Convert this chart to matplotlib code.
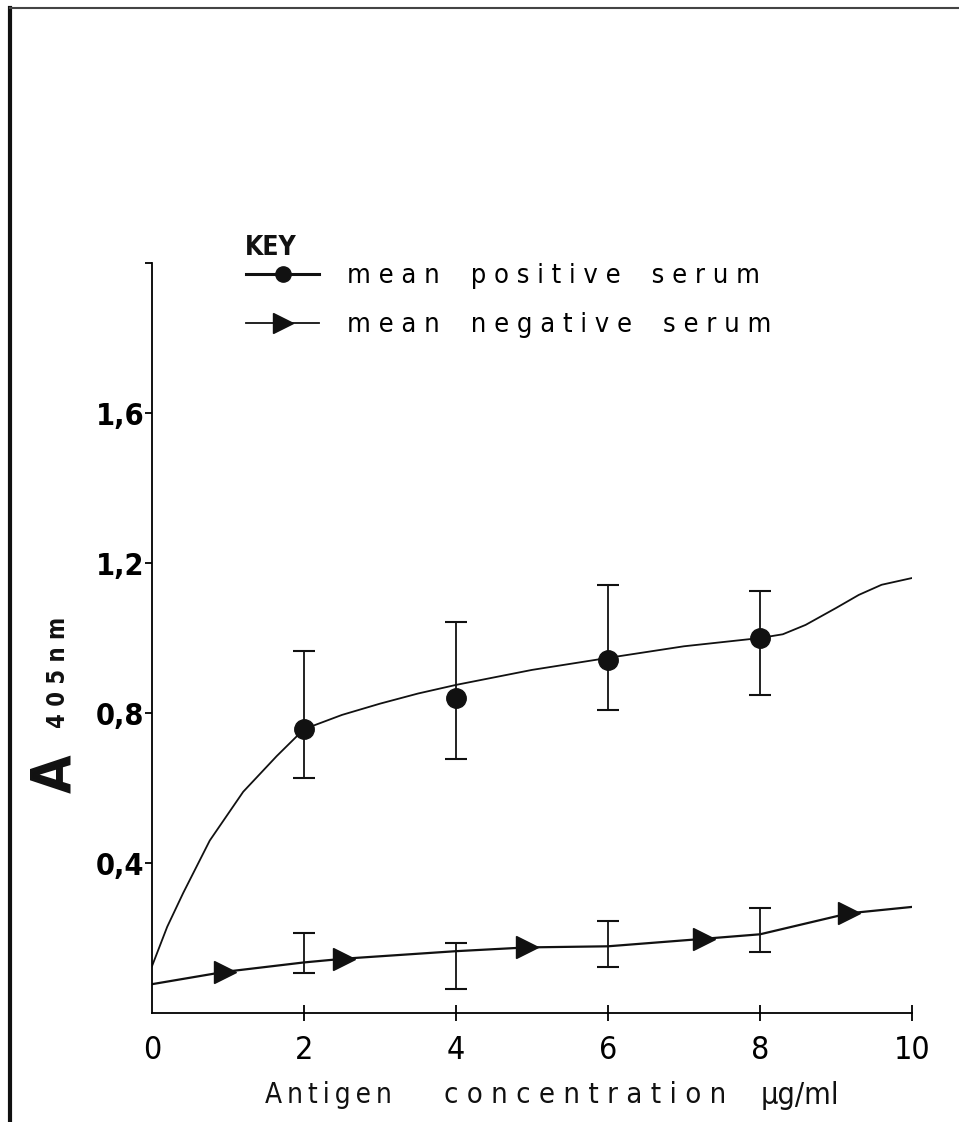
import matplotlib
matplotlib.use('Agg')
import matplotlib.pyplot as plt
from matplotlib.lines import Line2D

# values
conc = [2, 4, 6, 8]
pos_mean = [0.757, 0.840, 0.941, 1.000]
pos_hi = [0.965, 1.043, 1.141, 1.125]
pos_lo = [0.627, 0.677, 0.808, 0.848]

# hand-drawn curve through the positive means
pos_curve_x = [0, 0.2, 0.41, 0.76, 1.2, 1.64, 2.0, 2.5, 3.0, 3.5, 4.0, 5.0, 6.0, 7.0, 8.0,
               8.3, 8.6, 9.0, 9.3, 9.6, 10.0]
pos_curve_y = [0.125, 0.23, 0.32, 0.46, 0.59, 0.685, 0.757, 0.795, 0.825, 0.852, 0.875,
               0.915, 0.947, 0.978, 1.0, 1.01, 1.035, 1.08, 1.115, 1.142, 1.16]

neg_mean = [0.133, 0.165, 0.178, 0.216]
neg_hi = [0.213, 0.186, 0.245, 0.280]
neg_lo = [0.106, 0.064, 0.123, 0.163]

neg_curve_x = [0, 0.96, 2.0, 2.53, 4.0, 4.93, 6.0, 7.26, 8.0, 9.17, 10.0]
neg_curve_y = [0.077, 0.11, 0.135, 0.145, 0.165, 0.175, 0.178, 0.198, 0.21, 0.266, 0.283]
neg_tri_x = [0.96, 2.53, 4.93, 7.26, 9.17]
neg_tri_y = [0.11, 0.145, 0.175, 0.198, 0.266]

xticks = [0, 2, 4, 6, 8, 10]
yticks = [0.4, 0.8, 1.2, 1.6, 2.0]
ytick_labels = ['0,4', '0,8', '1,2', '1,6', '']

plt.rcParams['font.family'] = ['DejaVu Sans']
plt.rcParams['font.stretch'] = 'condensed'

fig = plt.figure(figsize=(9.59, 11.22), dpi=100)
ax = fig.add_axes([0.1585, 0.0971, 0.7925, 0.6685])

ink = '#111111'
ax.plot(pos_curve_x, pos_curve_y, color=ink, lw=1.3)
ax.plot(conc, pos_mean, 'o', color=ink, ms=14)
ax.errorbar(conc, pos_mean, yerr=[[m - l for m, l in zip(pos_mean, pos_lo)],
                                  [h - m for m, h in zip(pos_mean, pos_hi)]],
            fmt='none', ecolor=ink, elinewidth=1.3, capsize=8, capthick=1.5)

ax.plot(neg_curve_x, neg_curve_y, color=ink, lw=1.6)
ax.plot(neg_tri_x, neg_tri_y, '>', color=ink, ms=16)
ax.errorbar(conc, neg_mean, yerr=[[m - l for m, l in zip(neg_mean, neg_lo)],
                                  [h - m for m, h in zip(neg_mean, neg_hi)]],
            fmt='none', ecolor=ink, elinewidth=1.3, capsize=8, capthick=1.5)

ax.set_xlim(0, 10)
ax.set_ylim(0, 2.0)
ax.spines['top'].set_visible(False)
ax.spines['right'].set_visible(False)
ax.spines['left'].set_linewidth(1.3)
ax.spines['bottom'].set_linewidth(1.3)
ax.set_xticks(xticks)
ax.set_xticklabels([str(t) for t in xticks])
ax.set_yticks(yticks)
ax.set_yticklabels(ytick_labels)
ax.tick_params(axis='x', direction='inout', length=12, width=1.3, pad=10, labelsize=23)
ax.tick_params(axis='y', direction='out', length=5, width=1.3, pad=0.5, labelsize=22)
for lab in ax.get_yticklabels():
    lab.set_fontweight('bold')
ax.xaxis.get_major_ticks()[0].tick1line.set_visible(False)

# y label: big A with 405nm beside it
fig.text(0.058, 0.31, 'A', rotation=90, fontsize=40, fontweight='bold',
         ha='center', va='center', color=ink)
fig.text(0.060, 0.401, '4 0 5 n m', rotation=90, fontsize=17, fontweight='bold',
         ha='center', va='center', color=ink)

# x label, word by word as in the original
fig.text(0.343, 0.024, '\u2009'.join('Antigen'), fontsize=20, ha='center', va='center', color=ink)
fig.text(0.610, 0.024, 'c o n c e n t r a t i o n', fontsize=21, ha='center', va='center', color=ink)
fig.text(0.834, 0.024, 'µg/ml', fontsize=22, ha='center', va='center', color=ink)

# key
fig.text(0.2555, 0.779, 'KEY', fontsize=19, fontweight='bold', ha='left', va='center', color=ink)
handles = [Line2D([], [], color=ink, lw=2.2, marker='o', ms=11),
           Line2D([], [], color=ink, lw=1.3, marker='>', ms=14)]
leg = fig.legend(handles, ['m e a n    p o s i t i v e    s e r u m',
                           'm e a n    n e g a t i v e    s e r u m'],
                 loc='upper left', bbox_to_anchor=(0.2456, 0.775),
                 frameon=False, fontsize=19.5,
                 handlelength=2.7, handletextpad=1.0, labelspacing=0.85,
                 borderaxespad=0.0)

# scan frame edges
fig.add_artist(Line2D([0.010, 0.010], [0.0, 0.993], color=ink, lw=3))
fig.add_artist(Line2D([0.010, 1.0], [0.993, 0.993], color='#444444', lw=1.5))

fig.savefig('out.png', dpi=100)
